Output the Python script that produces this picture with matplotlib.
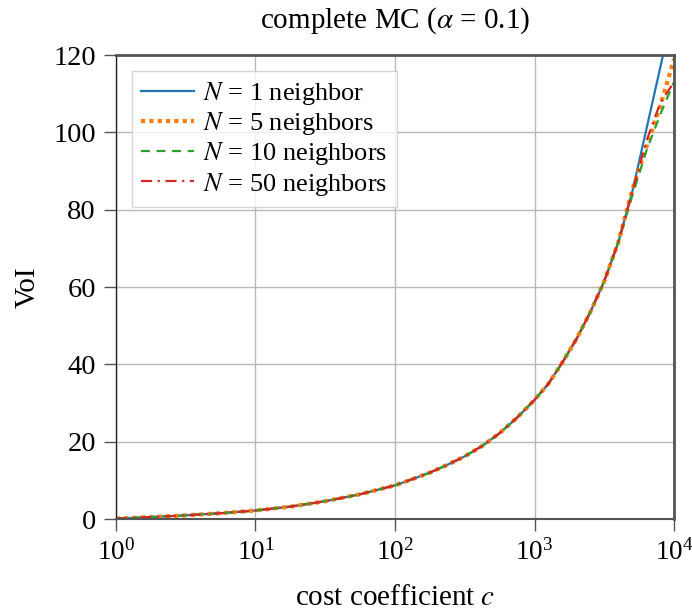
import matplotlib
matplotlib.use("Agg")
import matplotlib.pyplot as plt
from matplotlib.ticker import NullLocator, FixedLocator

plt.rcParams["font.family"] = ["Liberation Serif", "DejaVu Serif"]
plt.rcParams["mathtext.fontset"] = "stix"

# cost coefficient grid: quarter decades up to 1e2, eighths up to 1e3, tenths up to 1e4
cost = [1, 1.78, 3.16, 5.62, 10, 17.8, 31.6, 56.2,
        100, 133, 178, 237, 316, 422, 562, 750,
        1000, 1259, 1585, 1995, 2512, 3162, 3981, 5012, 6310, 7943, 10000]

# low-cost part where all neighbour counts coincide
voi_base = [0.1, 0.5, 0.95, 1.5, 2.2, 3.2, 4.6, 6.4,
            8.7, 10.3, 12.0, 14.0, 16.2, 18.9, 22.2, 26.2,
            30.8, 35.0, 40.5, 46.5, 53.5, 61.5, 71.5]

voi_n1 = voi_base + [84.5, 100.5, 116.5, 133.0]
voi_n5 = voi_base + [85.0, 96.0, 106.6, 119.0]
voi_n10 = voi_base + [83.5, 95.0, 104.5, 113.0]
voi_n50 = voi_base + [84.5, 97.5, 107.5, 113.0]

labels = [r"$N$ = 1 neighbor", r"$N$ = 5 neighbors",
          r"$N$ = 10 neighbors", r"$N$ = 50 neighbors"]
x_ticks = [1, 10, 100, 1000, 10000]
y_ticks = [0, 20, 40, 60, 80, 100, 120]

fig = plt.figure(figsize=(6.92, 6.14), dpi=100)
ax = fig.add_axes([0.1676, 0.1547, 0.974 - 0.1676, 0.9104 - 0.1547])

ax.plot(cost, voi_n1, color="#1f77b4", lw=1.6, ls="-", label=labels[0])
ax.plot(cost, voi_n5, color="#ff7f0e", lw=3.0, ls=(0, (1, 1)), label=labels[1])
ax.plot(cost, voi_n10, color="#2ca02c", lw=1.6, ls=(0, (4, 3)), label=labels[2])
ax.plot(cost, voi_n50, color="#d62728", lw=1.6, ls=(0, (5, 2.5, 1, 2.5)), label=labels[3])

ax.set_xscale("log")
ax.set_xlim(1, 10000)
ax.set_ylim(0, 120)
ax.xaxis.set_major_locator(FixedLocator(x_ticks))
ax.xaxis.set_minor_locator(NullLocator())
ax.set_yticks(y_ticks)

ax.grid(True, color="#b8b8b8", lw=1.0)
ax.set_axisbelow(True)

for side in ("top", "right"):
    ax.spines[side].set_color("#555555")
    ax.spines[side].set_linewidth(2.0)
ax.spines["left"].set_color("#222222")
ax.spines["left"].set_linewidth(1.0)
ax.spines["bottom"].set_color("#555555")
ax.spines["bottom"].set_linewidth(1.5)

ax.tick_params(axis="both", which="major", direction="out", length=8.5,
               width=1.0, color="#555555", pad=6)
ax.tick_params(axis="x", labelsize=19.5)
ax.tick_params(axis="y", labelsize=20.5)

ax.set_xlabel(r"cost coefficient $c$", fontsize=21, labelpad=14)
ax.set_ylabel("VoI", fontsize=21, labelpad=9)
ax.set_title(r"complete MC ($\alpha$ = 0.1)", fontsize=21, pad=20)

leg = ax.legend(loc="upper left", fontsize=19, fancybox=False,
                edgecolor="#cccccc", framealpha=0.8, handlelength=2.0,
                handletextpad=0.35, borderpad=0.35, labelspacing=0.12,
                borderaxespad=0.6)
leg.get_frame().set_linewidth(1.0)

fig.savefig("out.png", dpi=100)
